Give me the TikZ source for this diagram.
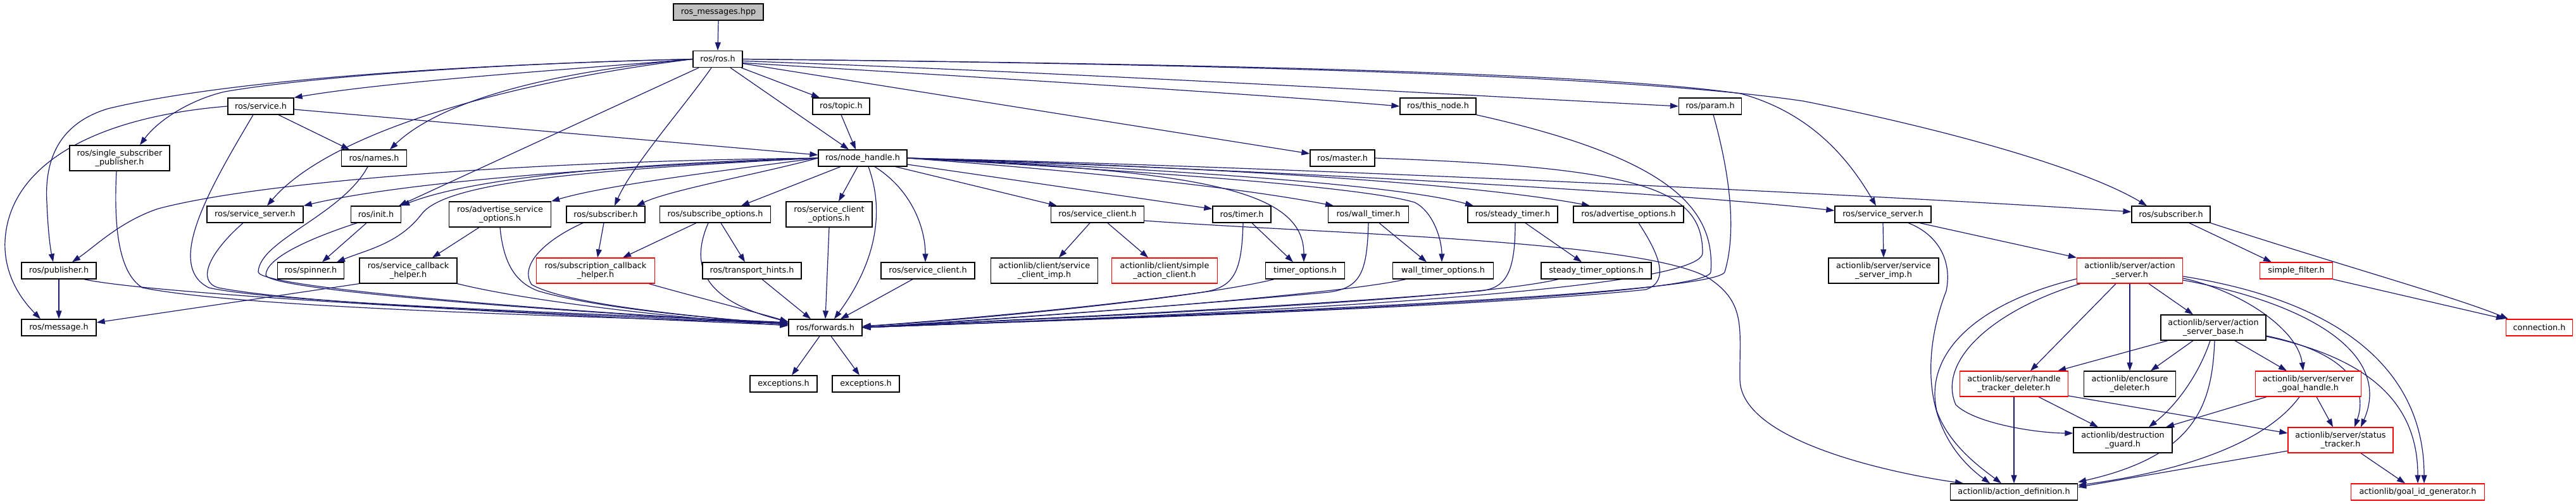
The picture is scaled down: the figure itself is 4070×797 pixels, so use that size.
\documentclass[tikz,border=0pt]{standalone}
\usepackage{fontspec}
\newfontfamily\dejavu{DejaVu Sans}
\usetikzlibrary{arrows.meta}
\pgfdeclarelayer{bg}
\pgfsetlayers{bg,main}
\definecolor{edgecol}{HTML}{191970}
\definecolor{graybox}{HTML}{BFBFBF}
\begin{document}
\begin{tikzpicture}[x=1pt,y=-1pt,
  box/.style={draw=black, line width=1.3pt, fill=white, inner sep=0pt, font={\dejavu\fontsize{12.8}{14.3}\selectfont}, align=center, minimum height=26pt},
  tall/.style={minimum height=40pt},
  redbox/.style={draw=red},
  arr/.style={draw=edgecol, line width=1.2pt, -{Triangle[length=13pt,width=9pt]}}]
\useasboundingbox (0,0) rectangle (4070,797);
% nodes
\node[box, fill=graybox, minimum width=142pt] (msg) at (1135,19) {ros\_messages.hpp};
\node[box, minimum width=78pt] (ros) at (1134,93.5) {ros/ros.h};
\node[box, minimum width=104pt] (service) at (412,168) {ros/service.h};
\node[box, minimum width=90pt] (topic) at (1329,168) {ros/topic.h};
\node[box, minimum width=120pt] (thisnode) at (2272,168) {ros/this\_node.h};
\node[box, minimum width=99pt] (param) at (2702,168) {ros/param.h};
\node[box, tall, minimum width=158pt] (ssp) at (189,250) {ros/single\_subscriber\\\_publisher.h};
\node[box, minimum width=103pt] (names) at (591,250) {ros/names.h};
\node[box, minimum width=140pt] (nh) at (1363,250) {ros/node\_handle.h};
\node[box, minimum width=102pt] (master) at (2121,250) {ros/master.h};
\node[box, minimum width=152pt] (ssrvL) at (403,339) {ros/service\_server.h};
\node[box, minimum width=79pt] (init) at (594,339) {ros/init.h};
\node[box, tall, minimum width=161pt] (aso) at (790,339) {ros/advertise\_service\\\_options.h};
\node[box, minimum width=124pt] (subL) at (957,339) {ros/subscriber.h};
\node[box, minimum width=175pt] (subopt) at (1130,339) {ros/subscribe\_options.h};
\node[box, tall, minimum width=136pt] (sco) at (1310,339) {ros/service\_client\\\_options.h};
\node[box, minimum width=147pt] (scli) at (1734,339) {ros/service\_client.h};
\node[box, minimum width=92pt] (timer) at (1962,339) {ros/timer.h};
\node[box, minimum width=127pt] (wtimer) at (2162,339) {ros/wall\_timer.h};
\node[box, minimum width=142pt] (stimer) at (2390,339) {ros/steady\_timer.h};
\node[box, minimum width=174pt] (advopt) at (2573,339) {ros/advertise\_options.h};
\node[box, minimum width=152pt] (ssrvR) at (2975,339) {ros/service\_server.h};
\node[box, minimum width=124pt] (subR) at (3430,339) {ros/subscriber.h};
\node[box, minimum width=118pt] (pub) at (93,428) {ros/publisher.h};
\node[box, minimum width=105pt] (spinner) at (491,428) {ros/spinner.h};
\node[box, tall, minimum width=154pt] (sch) at (645,428) {ros/service\_callback\\\_helper.h};
\node[box, tall, redbox, minimum width=187pt] (subcb) at (941,428) {ros/subscription\_callback\\\_helper.h};
\node[box, minimum width=156pt] (th) at (1188,428) {ros/transport\_hints.h};
\node[box, minimum width=148pt] (scli2) at (1466,428) {ros/service\_client.h};
\node[box, tall, minimum width=169pt] (sci) at (1650,428) {actionlib/client/service\\\_client\_imp.h};
\node[box, tall, redbox, minimum width=167pt] (sac) at (1840,428) {actionlib/client/simple\\\_action\_client.h};
\node[box, minimum width=125pt] (topt) at (2062,428) {timer\_options.h};
\node[box, minimum width=159pt] (wtopt) at (2280,428) {wall\_timer\_options.h};
\node[box, minimum width=174pt] (stopt) at (2522,428) {steady\_timer\_options.h};
\node[box, tall, minimum width=174pt] (ssi) at (2976,428) {actionlib/server/service\\\_server\_imp.h};
\node[box, tall, redbox, minimum width=167pt] (asrv) at (3365,428) {actionlib/server/action\\\_server.h};
\node[box, redbox, minimum width=115pt] (sf) at (3628,428) {simple\_filter.h};
\node[box, minimum width=118pt] (msgh) at (93,518) {ros/message.h};
\node[box, minimum width=116pt] (fwd) at (1304,518) {ros/forwards.h};
\node[box, tall, minimum width=166pt] (asb) at (3497,518) {actionlib/server/action\\\_server\_base.h};
\node[box, redbox, minimum width=105pt] (conn) at (4012,518) {connection.h};
\node[box, minimum width=106pt] (exc1) at (1238,607) {exceptions.h};
\node[box, minimum width=106pt] (exc2) at (1368,607) {exceptions.h};
\node[box, tall, redbox, minimum width=171pt] (htd) at (3182,607) {actionlib/server/handle\\\_tracker\_deleter.h};
\node[box, tall, minimum width=145pt] (ed) at (3365,607) {actionlib/enclosure\\\_deleter.h};
\node[box, tall, redbox, minimum width=167pt] (sgh) at (3647,607) {actionlib/server/server\\\_goal\_handle.h};
\node[box, tall, minimum width=156pt] (dg) at (3354,696) {actionlib/destruction\\\_guard.h};
\node[box, tall, redbox, minimum width=166pt] (stk) at (3698,696) {actionlib/server/status\\\_tracker.h};
\node[box, minimum width=201pt] (ad) at (3182,778) {actionlib/action\_definition.h};
\node[box, redbox, minimum width=211pt] (gid) at (3820,778) {actionlib/goal\_id\_generator.h};
\begin{pgfonlayer}{bg}
% edges from msg and ros
\draw[arr] (msg.south) -- (ros.north);
\draw[arr] (ros.west) .. controls (900,110) and (620,128) .. (service.north east);
\draw[arr] (ros.west) .. controls (800,100) and (500,120) .. (355,145) .. controls (300,158) and (250,190) .. ([xshift=32pt]ssp.north);
\draw[arr] (ros.west) .. controls (500,108) and (260,150) .. (170,172) .. controls (95,195) and (70,250) .. (74,320) .. controls (76,370) and (80,395) .. ([xshift=-9pt]pub.north);
\draw[arr] (ros.west) .. controls (850,115) and (690,165) .. ([xshift=25pt]names.north);
\draw[arr] (ros.west) .. controls (800,130) and (520,210) .. ([xshift=19pt]ssrvL.north);
\draw[arr] ([xshift=-30pt]ros.south) -- ([xshift=-4pt]init.north east);
\draw[arr] ([xshift=-10pt]ros.south) .. controls (1080,170) and (1000,260) .. ([xshift=14pt]subL.north);
\draw[arr] ([xshift=37pt]ros.south) -- ([xshift=-34pt]topic.north);
\draw[arr] ([xshift=20pt]ros.south) -- ([xshift=-22pt]nh.north);
\draw[arr] ([yshift=-6pt]ros.east) .. controls (1600,125) and (2000,150) .. (thisnode.west);
\draw[arr] ([yshift=-3pt]ros.east) .. controls (1700,115) and (2300,150) .. (param.west);
\draw[arr] ([yshift=-7pt]ros.east) -- ([yshift=7pt]master.west);
\draw[arr] (ros.east) .. controls (1800,100) and (2500,112) .. (2750,148) .. controls (2860,178) and (2920,250) .. ([xshift=-11pt]ssrvR.north);
\draw[arr] (ros.east) .. controls (1800,100) and (2550,115) .. (2850,160) .. controls (3100,210) and (3300,270) .. ([xshift=-38pt]subR.north);
% service
\draw[arr] (service.west) .. controls (150,185) and (15,260) .. (8,380) .. controls (5,440) and (40,480) .. ([xshift=-29pt]msgh.north);
\draw[arr] ([xshift=28pt]service.south) -- ([xshift=-39pt]names.north);
\draw[arr] ([yshift=-5pt]service.east) -- ([yshift=5pt]nh.west);
\draw[arr] ([xshift=-12pt]service.south) .. controls (330,300) and (260,420) .. (330,455) .. controls (450,482) and (1050,500) .. ([yshift=8pt]fwd.west);
\draw[arr] (topic.south) -- ([xshift=-11pt]nh.north);
% left side into forwards
\draw[arr] ([xshift=-5pt]ssp.south) .. controls (180,350) and (185,430) .. (225,455) .. controls (400,490) and (1000,502) .. ([yshift=6pt]fwd.west);
\draw[arr] ([xshift=-10pt]names.south) .. controls (540,340) and (410,380) .. (408,430) .. controls (408,458) and (1000,500) .. ([yshift=7pt]fwd.west);
\draw[arr] ([xshift=-19pt]ssrvL.south) .. controls (330,400) and (310,445) .. (345,455) .. controls (500,485) and (1000,500) .. ([yshift=6pt]fwd.west);
\draw[arr] ([xshift=-30pt]init.south) .. controls (480,380) and (420,410) .. (420,435) .. controls (425,462) and (1000,500) .. ([yshift=7pt]fwd.west);
\draw[arr] ([xshift=-15pt]init.south) -- ([xshift=18pt]spinner.north);
\draw[arr] ([xshift=40pt]pub.south) .. controls (250,468) and (1000,505) .. ([yshift=4pt]fwd.west);
\draw[arr] (pub.south) -- (msgh.north);
\draw[arr] (sch.south west) -- ([yshift=8pt]msgh.east);
\draw[arr] (sch.south east) .. controls (850,480) and (1100,505) .. ([yshift=3pt]fwd.west);
\draw[arr] ([xshift=-33pt]aso.south) -- ([xshift=38pt]sch.north);
\draw[arr] (aso.south) .. controls (795,410) and (810,445) .. (850,460) .. controls (950,490) and (1150,505) .. ([yshift=5pt]fwd.west);
\draw[arr] ([xshift=-36pt]subL.south) .. controls (860,380) and (820,420) .. (840,450) .. controls (900,485) and (1150,505) .. ([yshift=5pt]fwd.west);
\draw[arr] ([xshift=-3pt]subL.south) -- ([xshift=3pt]subcb.north);
\draw[arr] ([xshift=-30pt]subopt.south) -- ([xshift=43pt]subcb.north);
\draw[arr] ([xshift=9pt]subopt.south) -- ([xshift=-11pt]th.north);
\draw[arr] ([xshift=-11pt]subopt.south) .. controls (1090,420) and (1110,475) .. ([yshift=9pt]fwd.west);
\draw[arr] ([xshift=-10pt]subcb.south east) .. controls (1100,470) and (1200,495) .. ([yshift=9pt]fwd.west);
\draw[arr] ([xshift=16pt]th.south) -- ([xshift=-23pt]fwd.north);
\draw[arr] (sco.south) -- (fwd.north);
\draw[arr] ([xshift=9pt]nh.south) .. controls (1400,340) and (1380,420) .. ([xshift=14pt]fwd.north);
\draw[arr] ([xshift=19pt]nh.south) .. controls (1440,300) and (1462,360) .. ([xshift=-4pt]scli2.north);
\draw[arr] ([xshift=-24pt]scli2.south) -- ([xshift=24pt]fwd.north);
\draw[arr] ([xshift=-9pt]fwd.south) -- ([xshift=13pt]exc1.north);
\draw[arr] ([xshift=9pt]fwd.south) -- ([xshift=-10pt]exc2.north);
% node_handle to the left
\draw[arr] (nh.west) .. controls (800,255) and (400,290) .. (250,330) .. controls (190,350) and (150,390) .. ([xshift=21pt]pub.north);
\draw[arr] (nh.west) .. controls (1000,262) and (650,285) .. (ssrvL.north east);
\draw[arr] (nh.west) .. controls (1000,258) and (750,280) .. (init.north east);
\draw[arr] (nh.west) .. controls (900,270) and (700,290) .. (665,340) .. controls (630,385) and (580,395) .. ([xshift=41pt]spinner.north);
\draw[arr] (nh.west) .. controls (1100,275) and (950,295) .. (aso.north east);
\draw[arr] (nh.west) .. controls (1200,275) and (1060,300) .. ([xshift=-14pt]subL.north east);
\draw[arr] ([xshift=-35pt]nh.south) -- ([xshift=41pt]subopt.north);
\draw[arr] ([xshift=-8pt]nh.south) -- ([xshift=15pt]sco.north);
% node_handle to the right
\draw[arr] ([xshift=52pt]nh.south) -- ([xshift=-64pt]scli.north);
\draw[arr] ([yshift=-10pt]nh.east) -- ([yshift=-5pt]timer.north west);
\draw[arr] (nh.east) .. controls (1700,270) and (1950,295) .. ([xshift=-55pt]wtimer.north);
\draw[arr] (nh.east) .. controls (1800,265) and (2200,290) .. ([xshift=-62pt]stimer.north);
\draw[arr] (nh.east) .. controls (1800,260) and (2300,285) .. ([xshift=-61pt]advopt.north);
\draw[arr] (nh.east) .. controls (1900,265) and (2600,300) .. ([yshift=6pt]ssrvR.west);
\draw[arr] (nh.east) .. controls (2000,262) and (3000,310) .. ([yshift=4pt]subR.west);
\draw[arr] (nh.east) .. controls (1900,270) and (2060,300) .. ([xshift=-2pt]topt.north);
\draw[arr] (nh.east) .. controls (1800,270) and (2150,295) .. (2235,320) .. controls (2265,335) and (2278,380) .. ([xshift=-2pt]wtopt.north);
% right side into forwards
\draw[arr] ([xshift=2pt]timer.south) .. controls (1962,430) and (1950,455) .. (1900,462) .. controls (1700,490) and (1450,510) .. ([yshift=2pt]fwd.east);
\draw[arr] ([xshift=16pt]timer.south) -- ([xshift=-19pt]topt.north);
\draw[arr] ([xshift=-49pt]topt.south) .. controls (1900,470) and (1550,505) .. ([yshift=2pt]fwd.east);
\draw[arr] (wtimer.south) .. controls (2160,430) and (2150,455) .. (2100,462) .. controls (1800,490) and (1450,512) .. (fwd.east);
\draw[arr] ([xshift=17pt]wtimer.south) -- ([xshift=-26pt]wtopt.north);
\draw[arr] ([xshift=-59pt]wtopt.south) .. controls (2100,470) and (1500,510) .. (fwd.east);
\draw[arr] ([xshift=4pt]stimer.south) .. controls (2394,430) and (2380,455) .. (2340,460) .. controls (2000,490) and (1450,512) .. (fwd.east);
\draw[arr] ([xshift=20pt]stimer.south) -- ([xshift=-23pt]stopt.north);
\draw[arr] ([xshift=-60pt]stopt.south) .. controls (2300,480) and (1500,510) .. (fwd.east);
\draw[arr] ([xshift=16pt]advopt.south) .. controls (2620,400) and (2640,445) .. (2600,458) .. controls (2300,490) and (1500,512) .. (fwd.east);
\draw[arr] (thisnode.south east) .. controls (2640,250) and (2710,330) .. (2703,430) .. controls (2700,475) and (1700,505) .. (fwd.east);
\draw[arr] (master.east) .. controls (2600,265) and (2690,300) .. (2690,400) .. controls (2690,470) and (1700,505) .. (fwd.east);
\draw[arr] ([xshift=5pt]param.south) .. controls (2740,300) and (2740,380) .. (2725,430) .. controls (2710,470) and (1700,505) .. (fwd.east);
% service_client
\draw[arr] ([xshift=-12pt]scli.south) -- ([xshift=23pt]sci.north);
\draw[arr] ([xshift=16pt]scli.south) -- ([xshift=-26pt]sac.north);
\draw[arr] ([yshift=-10pt]scli.east) .. controls (2100,370) and (2600,380) .. (2700,440) .. controls (2760,480) and (2748,520) .. (2749,600) .. controls (2750,700) and (3000,750) .. ([xshift=-80pt]ad.north);
% service_server right
\draw[arr] (ssrvR.south) -- (ssi.north);
\draw[arr] ([xshift=58pt]ssrvR.south) -- (asrv.north west);
\draw[arr] ([xshift=40pt]ssrvR.south) .. controls (3060,370) and (3085,410) .. (3075,460) .. controls (3040,550) and (3030,680) .. ([xshift=-38pt]ad.north);
% subscriber right
\draw[arr] ([xshift=29pt]subR.south) -- ([xshift=-39pt]sf.north);
\draw[arr] (subR.south east) .. controls (3700,420) and (3880,470) .. ([xshift=4pt]conn.north west);
\draw[arr] (sf.south east) -- ([xshift=-2pt]conn.north west);
% action_server
\draw[arr] ([xshift=-22pt]asrv.south) -- ([xshift=26pt]htd.north);
\draw[arr] (asrv.south) -- (ed.north);
\draw[arr] ([xshift=30pt]asrv.south) -- ([xshift=-32pt]asb.north);
\draw[arr] ([yshift=-13pt]asrv.west) .. controls (3120,480) and (3040,560) .. (3060,650) .. controls (3080,705) and (3130,740) .. ([xshift=-20pt]ad.north);
\draw[arr] ([xshift=6pt]asrv.south west) .. controls (3150,490) and (3060,570) .. (3090,640) .. controls (3120,670) and (3220,685) .. ([yshift=11pt]dg.west);
\draw[arr] ([yshift=-12pt]asrv.east) .. controls (3540,460) and (3630,520) .. ([xshift=-8pt]sgh.north);
\draw[arr] ([yshift=-15pt]asrv.east) .. controls (3650,480) and (3780,560) .. ([xshift=32pt]stk.north);
\draw[arr] ([yshift=-9pt]asrv.east) .. controls (3720,480) and (3830,600) .. ([xshift=10pt]gid.north);
% action_server_base
\draw[arr] ([xshift=-72pt]asb.south) -- ([xshift=-17pt]htd.north east);
\draw[arr] ([xshift=-32pt]asb.south) -- ([xshift=33pt]ed.north);
\draw[arr] ([xshift=-5pt]asb.south) .. controls (3475,590) and (3440,640) .. ([xshift=41pt]dg.north);
\draw[arr] ([xshift=2pt]asb.south) .. controls (3495,640) and (3470,720) .. ([yshift=2pt]ad.north east);
\draw[arr] ([xshift=34pt]asb.south) -- ([xshift=-34pt]sgh.north);
\draw[arr] ([yshift=-13pt]asb.east) .. controls (3720,560) and (3740,620) .. ([xshift=22pt]stk.north);
\draw[arr] ([yshift=-14pt]asb.east) .. controls (3760,570) and (3820,650) .. (gid.north);
% handle_tracker_deleter
\draw[arr] (htd.south) -- (ad.north);
\draw[arr] ([xshift=39pt]htd.south) -- ([xshift=-39pt]dg.north);
\draw[arr] ([yshift=-19pt]htd.east) -- ([yshift=11pt]stk.west);
% server_goal_handle
\draw[arr] ([xshift=-66pt]sgh.south) -- ([xshift=68pt]dg.north);
\draw[arr] ([xshift=-14pt]sgh.south) .. controls (3580,700) and (3450,745) .. ([yshift=-3pt]ad.north east);
\draw[arr] ([xshift=13pt]sgh.south) -- ([xshift=-12pt]stk.north);
% status_tracker
\draw[arr] ([yshift=-17pt]stk.west) -- ([yshift=-6pt]ad.north east);
\draw[arr] ([xshift=32pt]stk.south) -- ([xshift=-20pt]gid.north);
\end{pgfonlayer}
\end{tikzpicture}
\end{document}
